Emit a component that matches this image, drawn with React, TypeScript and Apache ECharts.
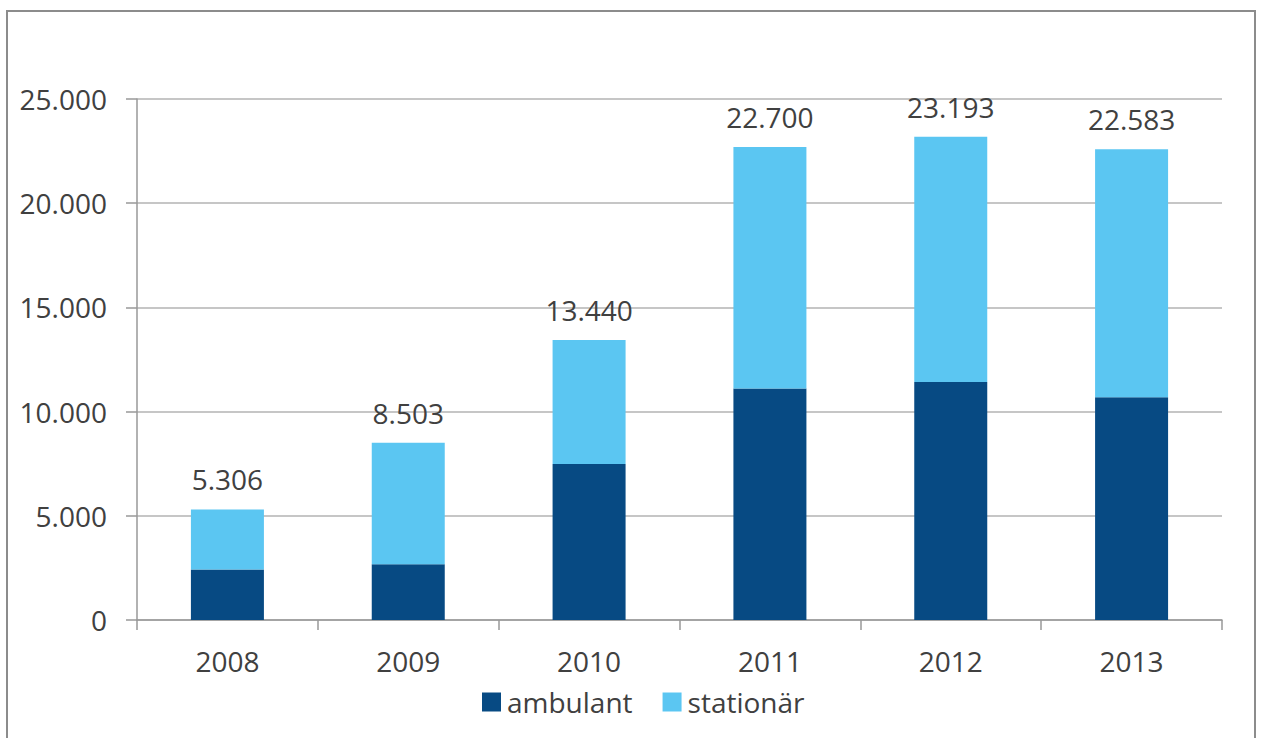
import React, { useEffect, useRef } from "react";
import * as echarts from "echarts";

const categories = ["2008", "2009", "2010", "2011", "2012", "2013"];
const ambulant = [2420, 2675, 7480, 11105, 11425, 10690];
const totals = [5306, 8503, 13440, 22700, 23193, 22583];
const stationaer = totals.map((t, i) => t - ambulant[i]);
const seriesNames = ["ambulant", "stationär"];

const fmt = (v: number) => {
  const s = String(Math.round(v));
  return s.replace(/\B(?=(\d{3})+(?!\d))/g, ".");
};

const FONT = "'Open Sans', 'Noto Sans', sans-serif";
const TEXT = "#404040";
const FS = 28;

export default function App() {
  const ref = useRef<HTMLDivElement>(null);
  useEffect(() => {
    if (!ref.current) return;
    const chart = echarts.init(ref.current, null, { renderer: "svg" });
    chart.setOption({
      animation: false,
      backgroundColor: "#ffffff",
      textStyle: { fontFamily: FONT },
      graphic: [
        {
          type: "rect",
          shape: { x: 7, y: 11, width: 1248, height: 740 },
          style: { fill: "none", stroke: "#8c8c8c", lineWidth: 2 },
          silent: true,
        },
      ],
      grid: { left: 137, right: 39, top: 99, bottom: 118, containLabel: false },
      legend: {
        data: seriesNames,
        left: 477,
        top: 682,
        icon: "rect",
        itemWidth: 19,
        itemHeight: 19,
        itemGap: 30,
        textStyle: {
          fontFamily: FONT,
          fontSize: FS,
          color: TEXT,
          lineHeight: 30,
          padding: [0, 0, 0, 1],
        },
      },
      xAxis: {
        type: "category",
        data: categories,
        axisLine: { show: true, lineStyle: { color: "#999999", width: 1.5 } },
        axisTick: { show: true, length: 10, lineStyle: { color: "#999999", width: 1.5 } },
        axisLabel: { fontFamily: FONT, fontSize: FS, color: TEXT, margin: 27 },
      },
      yAxis: {
        type: "value",
        min: 0,
        max: 25000,
        interval: 5000,
        axisLine: { show: true, lineStyle: { color: "#999999", width: 1.5 } },
        axisTick: { show: true, length: 11, lineStyle: { color: "#999999", width: 1.5 } },
        splitLine: { show: true, lineStyle: { color: "#b3b3b3", width: 1.5 } },
        axisLabel: {
          fontFamily: FONT,
          fontSize: FS,
          color: TEXT,
          margin: 30,
          formatter: (v: number) => fmt(v),
        },
      },
      series: [
        {
          name: seriesNames[0],
          type: "bar",
          stack: "total",
          data: ambulant,
          barWidth: 73,
          itemStyle: { color: "#074a83" },
        },
        {
          name: seriesNames[1],
          type: "bar",
          stack: "total",
          data: stationaer,
          barWidth: 73,
          itemStyle: { color: "#5bc6f2" },
          label: {
            show: true,
            position: "top",
            distance: 16,
            fontFamily: FONT,
            fontSize: FS,
            color: TEXT,
            formatter: (p: any) => fmt(totals[p.dataIndex]),
          },
        },
      ],
    });
    return () => chart.dispose();
  }, []);
  return (
    <div
      ref={ref}
      style={{ position: "fixed", left: 0, top: 0, width: 1261, height: 738 }}
    />
  );
}
